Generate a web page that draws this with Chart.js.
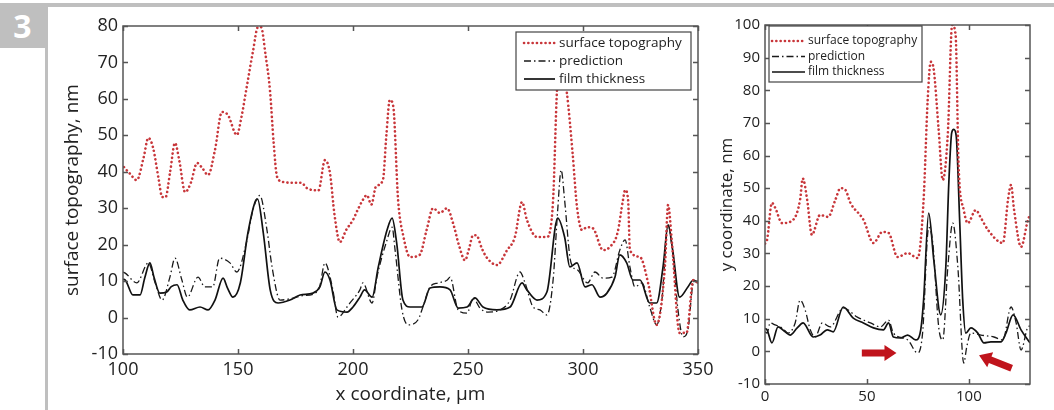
<!DOCTYPE html>
<html>
<head>
<meta charset="utf-8">
<script src="https://cdn.jsdelivr.net/npm/chart.js@4/dist/chart.umd.min.js"></script>
<style>
  html, body { margin: 0; padding: 0; background: #fff; }
  #wrap { position: relative; width: 1054px; height: 410px; overflow: hidden; }
  canvas { position: absolute; left: 0; top: 0; }
  .gray { position: absolute; background: #bfbfbf; }
  #num { position: absolute; left: 0; top: 3px; width: 45px; height: 45px; background: #bfbfbf;
         color: #fff; font: bold 32px "Open Sans", sans-serif; text-align: center; line-height: 45px; }
</style>
</head>
<body>
<div id="wrap">
  <div class="gray" style="left:0;top:3px;width:1054px;height:4px;"></div>
  <div class="gray" style="left:45px;top:3px;width:3px;height:407px;"></div>
  <div id="num">3</div>
  <canvas id="c1" width="1054" height="410"></canvas>
  <canvas id="c2" width="1054" height="410"></canvas>
</div>
<script>
// ---------- data: left panel (x coordinate, µm) ----------
const leftTopoX = [100.4,103,106,109,111,113,115.5,117,118.5,120.5,122.6,124.5,127,129.5,132.2,134.5,137,140,143,145.6,149.5,151.5,153.8,156.5,158.7,160,162,163.9,165.5,167,169.6,173.9,177.5,180,185,187.8,190,192,194.3,197,200,202,204.3,206,208,210,213,214.5,216,217.5,219.6,222,224.8,229,232,234.8,237.8,240.9,243.5,246,248.7,250.5,252.2,253.6,256,258,262.6,267,270.4,273.5,275.6,280,284.3,287,288.7,290.5,293,295.5,297.4,299.6,301.7,304.3,308.7,311.7,315,317.4,318.3,319.6,320.4,324.8,328.3,332,335.6,337,338.7,342,345,348,350];
const leftTopoY = [41.3,39.5,37.7,44,49.3,46.8,38,33.1,33,40,47.9,43,34.4,37,42.4,41,39.1,46,56.4,55.6,50.1,55,63.3,73,79.7,79.7,72,62.4,48,38.6,37.2,37,37,35.5,34.9,43.2,39.6,28,20.7,24,26.8,29.5,32.3,33.6,31,36,37.7,50,59.7,58,32.3,22,16.6,17.2,24,30,28.7,30,25.9,20,15.7,19,22.6,22.6,19,16.6,14.4,18.5,22.1,31.7,26.8,22.1,22.1,32.3,62.4,70,61.6,45,30.3,24,24.8,24.5,18.5,19.4,23.2,32.3,35,32.3,18.5,16.6,9.5,-2,13.9,30.9,20.4,-4.2,-4.2,10.3,9.5];

const leftPredX = [100,101,106,111,114,117,120.4,122.6,125.6,128,132.6,135.6,139,142,146.5,149.5,153.9,156.5,159.5,162.6,164.8,168.3,173,178,183,185.5,187.8,191,193.5,197.4,198.7,203,204.3,208.3,210.4,214.8,217,218.3,221.3,224,228.3,230.4,233.5,237,241,242.2,245.7,249.6,252.2,255.2,258.7,264,268.3,272.6,274.8,278.3,281.3,284.3,287,289,290.5,292,294.3,295.6,297.8,302,305.2,308.7,312.6,316,318.3,320.4,322.6,325.6,329,332,334.3,337,339,341.3,343.5,345.6,348,350];
const leftPredY = [12.5,12.2,9.5,15,9.5,4.8,11.1,16.3,10.3,5.6,11.1,8.4,8.4,16.3,15,12.5,21.3,29.5,33.5,24,13.9,4.8,5.2,6,6.5,8.5,15,8.4,0.1,2.9,4,7.6,9.5,4,11.1,21.3,24.8,18.5,2.1,-2,-0.6,2.9,8.4,9.5,10.3,11.1,2.1,1.2,5.4,2.6,1.5,2.1,4.8,12.5,9.5,2.9,2.1,0.7,10.3,29.5,40.5,32.3,16.6,13.9,13,9.5,12.5,10.8,11.1,18.5,21.3,13.9,8.4,9.5,2.9,-2,4.8,25.4,17.7,2.1,-5.3,-3.4,9.5,10];

const leftFilmX = [100,101,104.3,107.4,109.5,111.7,113.5,116,119,121,123.5,126,129,133.5,137,140,143.5,145.5,147.8,151,154.3,157.4,158.5,161,164,167.4,172.6,177,182.6,185.6,187.8,190,193,197.4,200,203,205,208.3,211,214.8,217,219,221.7,224.8,230,233.5,237.8,242.2,245.7,249.6,253,256.5,262.6,268.3,273.5,275.6,280,284.3,289,292,294.3,297.4,300.9,303.9,307.4,310.4,313.9,316,319,321.7,324.8,329,332,334.8,337,339,342,345.6,348,350];
const leftFilmY = [10.5,10.3,6.2,6.2,11,15,11,6.7,7,8.5,9,4.8,2.1,2.9,2.1,4.8,10.8,8,5.6,9.5,23.2,31.7,32.5,23.2,7.6,4,4.8,6.2,6.7,8.4,12.5,10.3,2.1,1.5,2.9,5.6,7.6,5.6,13.9,24,27.3,20.4,4.8,2.9,2.9,8.1,8.4,7.6,2.6,2.9,5.4,2.9,2.1,2.9,9.5,7.6,4.8,7,27.3,22.1,13.9,15,8.4,9,5.6,6.7,11.1,17.2,15,10.3,10.3,4,4,13.9,25.4,18.5,5.6,8.4,10.3,9.5];

// ---------- data: right panel ----------
const rightTopoX = [0,1,3.4,5,8.4,13.8,17.2,18.5,20.7,23,27,31,34.5,37,39.4,41.9,48.3,53.2,57.6,60.6,65,70,74.9,77.8,79.8,81.3,82.8,85.2,87.2,89.7,91.8,93.5,95,97.5,99.5,103.4,105.9,109.4,116.7,119.2,120.7,122.2,125.6,129,130];
const rightTopoY = [33,34.1,45.5,44,39.3,40.3,46.4,53,46.4,35.7,41.8,41.2,46.4,50,49.5,45.5,40.3,33.2,36.6,36.3,28.9,30.1,28.6,46.4,77,88.7,86.2,67.8,52.5,66.9,100,97,56.5,43.3,39.3,43.3,40.9,37.2,33.2,46.4,51,43.3,32,40.3,41.8];

const rightPredX = [0,1,2.5,4.9,8.4,11.3,14.8,17.2,19.7,22.2,24.6,28.1,32,38.4,45.3,51.7,56.7,60.6,63,70,74.9,77.3,80.3,82.3,85.2,87.2,89.7,92.1,94.6,97.5,99,101,105.9,112.3,116.7,120.7,123.2,125.6,129,130];
const rightPredY = [6,5.6,8.7,8.1,7.2,5.6,8.7,15.7,12.7,6.6,4.4,8.7,7.5,13.3,10.5,8.7,7.5,9.6,5.6,3.5,-0.5,5.6,38,33.2,7.5,3.5,25.9,39.3,25.9,-3.6,1.5,5.6,5,4.4,3.5,13.6,8.7,0.4,7.5,7.8];

const rightFilmX = [0,1,3.4,6.4,9.9,12.3,15.8,18.7,23.6,27,30.5,33.5,38.4,43.3,48.3,53.2,58.1,60.6,63,66.5,70,73.9,76.4,77.8,80.3,82.8,86.2,88.7,90.2,91.6,92.6,93.8,95.5,97,98.5,101,104.4,107.4,110.8,115.8,118.2,121.7,125.6,130];
const rightFilmY = [7,6.6,2.6,7.5,6,5,7.2,8.7,4.4,5,6.6,6,13.6,10.2,8.7,7.2,6.6,8.7,4.4,4.1,5,3.5,6.6,15.7,42.4,28,11.2,25.9,52,67,68,66,40,15.7,5.6,7.2,5.6,2.6,2.9,2.9,5.6,11.2,6.6,2.6];

// annotation arrows on the right panel (data coordinates: tail -> tip)
const rightArrows = [
  { from: [47.5, -0.5], to: [64.5, -0.5] },
  { from: [121, -5.2], to: [105, -1.2] }
];

const seriesLabels = ['surface topography', 'prediction', 'film thickness'];
const leftTicksY = { min: -10, max: 80, step: 10 };
const rightTicksY = { min: -10, max: 100, step: 10 };
const leftTicksX = { min: 100, max: 350, step: 50 };
const rightTicksX = { min: 0, max: 130, step: 50 };

// ---------- helpers ----------
const pts = (xs, ys) => xs.map((x, i) => ({ x, y: ys[i] }));
const RED = '#c8363a';
const FONT = '"Open Sans", "DejaVu Sans", sans-serif';

function makeDatasets(tx, ty, px, py, fx, fy) {
  return [
    { label: seriesLabels[0], data: pts(tx, ty), borderColor: RED, borderWidth: 2.6,
      borderDash: [0.1, 4.2], borderCapStyle: 'round' },
    { label: seriesLabels[1], data: pts(px, py), borderColor: '#1a1a1a', borderWidth: 1.3,
      borderDash: [7, 3, 1.5, 3] },
    { label: seriesLabels[2], data: pts(fx, fy), borderColor: '#111', borderWidth: 1.7 }
  ].map(d => Object.assign({ pointRadius: 0, cubicInterpolationMode: 'monotone', fill: false }, d));
}

const framePlugin = {
  id: 'frame',
  afterDatasetsDraw(chart, args, o) {
    const { ctx, chartArea: a, scales: { x, y } } = chart;
    ctx.save();
    ctx.strokeStyle = o.color; ctx.lineWidth = o.width;
    ctx.beginPath();
    x.ticks.forEach(t => {
      const p = Math.round(x.getPixelForValue(t.value)) + 0.5;
      ctx.moveTo(p, a.bottom); ctx.lineTo(p, a.bottom - o.tick);
      ctx.moveTo(p, a.top); ctx.lineTo(p, a.top + o.tick);
    });
    y.ticks.forEach(t => {
      const p = Math.round(y.getPixelForValue(t.value)) + 0.5;
      ctx.moveTo(a.left, p); ctx.lineTo(a.left + o.tick, p);
      ctx.moveTo(a.right, p); ctx.lineTo(a.right - o.tick, p);
    });
    ctx.stroke();
    ctx.strokeRect(a.left, a.top, a.right - a.left, a.bottom - a.top);
    ctx.restore();
  }
};

const boxLegendPlugin = {
  id: 'boxLegend',
  afterDraw(chart, args, o) {
    const { ctx, chartArea: a } = chart;
    const x0 = o.anchor === 'right' ? a.right - o.offsetX - o.w : a.left + o.offsetX;
    const y0 = a.top + o.offsetY;
    ctx.save();
    ctx.fillStyle = '#fff';
    ctx.fillRect(x0, y0, o.w, o.h);
    ctx.strokeStyle = '#444'; ctx.lineWidth = 1.2;
    ctx.strokeRect(x0, y0, o.w, o.h);
    ctx.font = o.fontSize + 'px ' + FONT;
    ctx.textBaseline = 'middle';
    chart.data.datasets.forEach((d, i) => {
      const yy = y0 + o.firstRow + i * o.rowGap;
      ctx.strokeStyle = d.borderColor; ctx.lineWidth = d.borderWidth;
      ctx.setLineDash(d.borderDash || []);
      ctx.lineCap = d.borderCapStyle || 'butt';
      ctx.beginPath();
      ctx.moveTo(x0 + o.sampleL, yy); ctx.lineTo(x0 + o.sampleL + o.sampleW, yy);
      ctx.stroke();
      ctx.setLineDash([]);
      ctx.fillStyle = '#222';
      ctx.fillText(d.label, x0 + o.sampleL + o.sampleW + o.textGap, yy);
    });
    ctx.restore();
  }
};

const arrowPlugin = {
  id: 'arrows',
  afterDatasetsDraw(chart, args, o) {
    if (!o.items) return;
    const { ctx, scales: { x, y } } = chart;
    ctx.save();
    ctx.fillStyle = o.color;
    o.items.forEach(it => {
      const x0 = x.getPixelForValue(it.from[0]), y0 = y.getPixelForValue(it.from[1]);
      const x1 = x.getPixelForValue(it.to[0]), y1 = y.getPixelForValue(it.to[1]);
      const len = Math.hypot(x1 - x0, y1 - y0);
      const ux = (x1 - x0) / len, uy = (y1 - y0) / len;
      const nx = -uy, ny = ux;
      const sw = o.shaft / 2, hw = o.head / 2, hl = o.headLen;
      const bx = x1 - ux * hl, by = y1 - uy * hl;
      ctx.beginPath();
      ctx.moveTo(x0 + nx * sw, y0 + ny * sw);
      ctx.lineTo(bx + nx * sw, by + ny * sw);
      ctx.lineTo(bx + nx * hw, by + ny * hw);
      ctx.lineTo(x1, y1);
      ctx.lineTo(bx - nx * hw, by - ny * hw);
      ctx.lineTo(bx - nx * sw, by - ny * sw);
      ctx.lineTo(x0 - nx * sw, y0 - ny * sw);
      ctx.closePath();
      ctx.fill();
    });
    ctx.restore();
  }
};

function makeChart(id, cfg) {
  return new Chart(document.getElementById(id), {
    type: 'line',
    data: { datasets: cfg.datasets },
    plugins: [framePlugin, boxLegendPlugin, arrowPlugin],
    options: {
      responsive: false, animation: false, devicePixelRatio: 1,
      layout: { padding: cfg.padding },
      plugins: {
        legend: { display: false }, tooltip: { enabled: false },
        frame: { color: '#555', width: 1.5, tick: 5 },
        boxLegend: cfg.legend,
        arrows: cfg.arrows || {}
      },
      scales: {
        x: {
          type: 'linear', min: cfg.tx.min, max: cfg.tx.max,
          grid: { display: false, drawTicks: false }, border: { display: false },
          ticks: { stepSize: cfg.tx.step, includeBounds: false, padding: cfg.xTickPad, color: '#222',
                   font: { family: FONT, size: cfg.tickSize }, maxRotation: 0 },
          title: cfg.xTitle ? { display: true, text: cfg.xTitle, color: '#222',
                   font: { family: FONT, size: cfg.titleSize }, padding: { top: 0, bottom: 4 } } : { display: false },
          afterFit: s => { s.height = cfg.xHeight; }
        },
        y: {
          type: 'linear', min: cfg.ty.min, max: cfg.ty.max,
          grid: { display: false, drawTicks: false }, border: { display: false },
          ticks: { stepSize: cfg.ty.step, padding: 5, color: '#222',
                   font: { family: FONT, size: cfg.tickSize } },
          title: { display: true, text: cfg.yTitle, color: '#222',
                   font: { family: FONT, size: cfg.titleSize }, padding: { top: 4, bottom: 4 } },
          afterFit: s => { s.width = cfg.yWidth; }
        }
      }
    }
  });
}

makeChart('c1', {
  datasets: makeDatasets(leftTopoX, leftTopoY, leftPredX, leftPredY, leftFilmX, leftFilmY),
  padding: { left: 57, right: 356, top: 26, bottom: 0 },
  yWidth: 66, xHeight: 56, xTickPad: 5,
  tx: leftTicksX, ty: leftTicksY, tickSize: 18, titleSize: 19,
  xTitle: 'x coordinate, \u00b5m', yTitle: 'surface topography, nm',
  legend: { anchor: 'right', offsetX: 7, offsetY: 6, w: 175, h: 58, firstRow: 11, rowGap: 18,
            sampleL: 8, sampleW: 31, textGap: 4, fontSize: 13.5 }
});

makeChart('c2', {
  datasets: makeDatasets(rightTopoX, rightTopoY, rightPredX, rightPredY, rightFilmX, rightFilmY),
  padding: { left: 713, right: 24, top: 25, bottom: 0 },
  yWidth: 52, xHeight: 26, xTickPad: 4,
  tx: rightTicksX, ty: rightTicksY, tickSize: 15, titleSize: 17,
  yTitle: 'y coordinate, nm',
  legend: { anchor: 'left', offsetX: 4, offsetY: 1, w: 153, h: 56, firstRow: 15, rowGap: 15.5,
            sampleL: 3, sampleW: 33, textGap: 3, fontSize: 12 },
  arrows: { items: rightArrows, color: '#c0141c', shaft: 7, head: 16, headLen: 12 }
});
</script>
</body>
</html>
